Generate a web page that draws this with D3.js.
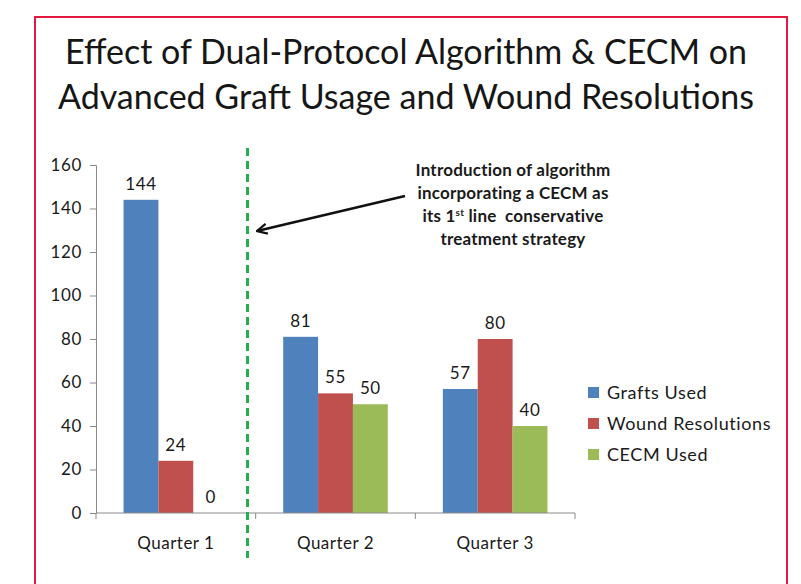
<!DOCTYPE html>
<html>
<head>
<meta charset="utf-8">
<script src="https://cdn.jsdelivr.net/npm/d3@7"></script>
<style>
  body { margin: 0; background: #fff; }
  svg { display: block; font-family: Lato, "Open Sans", sans-serif; }
</style>
</head>
<body>
<svg id="chart" width="801" height="584"></svg>
<script>
// data
const quarters = ["Quarter 1", "Quarter 2", "Quarter 3"];
const seriesNames = ["Grafts Used", "Wound Resolutions", "CECM Used"];
const graftsUsed = [144, 81, 57];
const woundResolutions = [24, 55, 80];
const cecmUsed = [0, 50, 40];
const yTicks = [0, 20, 40, 60, 80, 100, 120, 140, 160];
const colors = ["#4f81bd", "#c0504d", "#9bbb59"];
const titleLines = ["Effect of Dual-Protocol Algorithm & CECM on",
                    "Advanced Graft Usage and Wound Resolutions"];
const noteLines = ["Introduction of algorithm", "incorporating a CECM as",
                   "its 1st line  conservative", "treatment strategy"];

const rows = quarters.map((q, i) => ({
  quarter: q,
  values: [graftsUsed[i], woundResolutions[i], cecmUsed[i]]
}));

const svg = d3.select("#chart");

// red frame
svg.append("rect")
    .attr("x", 35).attr("y", 17)
    .attr("width", 752).attr("height", 600)
    .attr("fill", "none")
    .attr("stroke", "#e4173e")
    .attr("stroke-width", 2);

// title
svg.append("g")
    .attr("font-size", 34)
    .attr("fill", "#161616")
    .attr("text-anchor", "middle")
  .selectAll("text")
  .data(titleLines)
  .join("text")
    .attr("x", 406)
    .attr("y", (d, i) => 64 + i * 45)
    .text(d => d);

const x0 = d3.scaleBand()
    .domain(quarters)
    .range([96, 575]);

const x1 = d3.scaleBand()
    .domain(d3.range(seriesNames.length))
    .range([0, x0.bandwidth()])
    .paddingOuter(0.79);

const y = d3.scaleLinear()
    .domain([0, 160])
    .range([513, 165]);

// y axis
const yAxis = svg.append("g")
    .attr("transform", "translate(96,0)")
    .call(d3.axisLeft(y).tickValues(yTicks).tickSize(6).tickPadding(8));
yAxis.select(".domain").attr("stroke", "#8a8a8a");
yAxis.selectAll(".tick line").attr("stroke", "#8a8a8a");
yAxis.selectAll(".tick text")
    .attr("font-size", 17)
    .attr("letter-spacing", 0.6)
    .attr("fill", "#1a1a1a")
    .attr("font-family", "Lato, sans-serif");

// bars
const groups = svg.append("g")
  .selectAll("g")
  .data(rows)
  .join("g")
    .attr("transform", d => `translate(${x0(d.quarter)},0)`);

groups.selectAll("rect")
  .data(d => d.values)
  .join("rect")
    .attr("x", (d, i) => x1(i))
    .attr("y", d => y(d))
    .attr("width", x1.bandwidth())
    .attr("height", d => y(0) - y(d))
    .attr("fill", (d, i) => colors[i]);

groups.selectAll("text")
  .data(d => d.values)
  .join("text")
    .attr("x", (d, i) => x1(i) + x1.bandwidth() / 2)
    .attr("y", d => y(d) - 10)
    .attr("text-anchor", "middle")
    .attr("font-size", 17)
    .attr("letter-spacing", 0.6)
    .attr("fill", "#1a1a1a")
    .text(d => d);

// x axis, excel style with ticks on the category boundaries
const xAxis = svg.append("g").attr("stroke", "#8a8a8a");
xAxis.append("line")
    .attr("x1", x0.range()[0]).attr("x2", x0.range()[1])
    .attr("y1", y(0)).attr("y2", y(0));
xAxis.selectAll("line.tk")
  .data(quarters.map(q => x0(q)).concat([x0.range()[1]]))
  .join("line")
    .attr("class", "tk")
    .attr("x1", d => d).attr("x2", d => d)
    .attr("y1", y(0)).attr("y2", y(0) + 6);

svg.append("g")
    .attr("font-size", 17)
    .attr("letter-spacing", 0.5)
    .attr("fill", "#1a1a1a")
    .attr("text-anchor", "middle")
  .selectAll("text")
  .data(quarters)
  .join("text")
    .attr("x", d => x0(d) + x0.bandwidth() / 2)
    .attr("y", 549)
    .text(d => d);

// dashed divider between quarter 1 and 2
svg.append("line")
    .attr("x1", 247.5).attr("x2", 247.5)
    .attr("y1", 148).attr("y2", 558)
    .attr("stroke", "#22b14c")
    .attr("stroke-width", 3)
    .attr("stroke-dasharray", "8,5");

// annotation
const note = svg.append("text")
    .attr("font-size", 17)
    .attr("letter-spacing", 0.2)
    .attr("font-weight", "bold")
    .attr("fill", "#1a1a1a")
    .attr("text-anchor", "middle");
noteLines.forEach((line, i) => {
  const t = note.append("tspan")
      .attr("x", 513)
      .attr("y", 176 + i * 23);
  if (line.startsWith("its 1st")) {
    t.text("its 1");
    t.append("tspan").attr("font-size", 10).attr("dy", -6).text("st");
    t.append("tspan").attr("dy", 6).attr("xml:space", "preserve").text(" line  conservative");
  } else {
    t.text(line);
  }
});

svg.append("defs").append("marker")
    .attr("id", "head")
    .attr("viewBox", "0 0 12 12")
    .attr("refX", 11).attr("refY", 6)
    .attr("markerWidth", 12).attr("markerHeight", 12)
    .attr("markerUnits", "userSpaceOnUse")
    .attr("orient", "auto")
  .append("path")
    .attr("d", "M1,1 L11,6 L1,11")
    .attr("fill", "none")
    .attr("stroke", "#111")
    .attr("stroke-width", 2.2);

svg.append("line")
    .attr("x1", 405).attr("y1", 196)
    .attr("x2", 257).attr("y2", 231)
    .attr("stroke", "#111")
    .attr("stroke-width", 2.5)
    .attr("marker-end", "url(#head)");

// legend
const legend = svg.append("g")
  .selectAll("g")
  .data(seriesNames)
  .join("g")
    .attr("transform", (d, i) => `translate(588,${392 + i * 31})`);
legend.append("rect")
    .attr("x", 0).attr("y", -5)
    .attr("width", 11).attr("height", 11)
    .attr("fill", (d, i) => colors[i]);
legend.append("text")
    .attr("x", 19).attr("y", 6.5)
    .attr("font-size", 18)
    .attr("letter-spacing", 0.6)
    .attr("fill", "#1a1a1a")
    .text(d => d);
</script>
</body>
</html>
